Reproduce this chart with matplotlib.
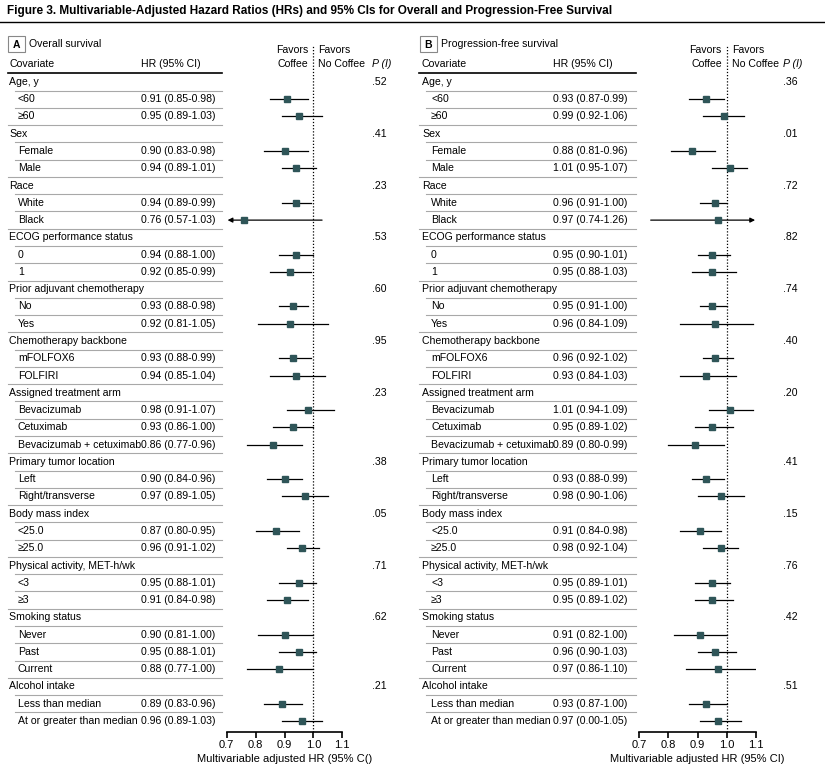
import numpy as np
import matplotlib
matplotlib.use('Agg')
import matplotlib.pyplot as plt
from matplotlib.patches import Rectangle
from matplotlib.transforms import blended_transform_factory

plt.rcParams['font.family'] = ['Liberation Sans', 'DejaVu Sans']

title = ('Figure 3. Multivariable-Adjusted Hazard Ratios (HRs) and 95% CIs '
         'for Overall and Progression-Free Survival')

groups = ['Age, y', 'Sex', 'Race', 'ECOG performance status', 'Prior adjuvant chemotherapy',
          'Chemotherapy backbone', 'Assigned treatment arm', 'Primary tumor location',
          'Body mass index', 'Physical activity, MET-h/wk', 'Smoking status', 'Alcohol intake']
subgroups = [['<60', '≥60'], ['Female', 'Male'], ['White', 'Black'], ['0', '1'], ['No', 'Yes'],
             ['mFOLFOX6', 'FOLFIRI'], ['Bevacizumab', 'Cetuximab', 'Bevacizumab + cetuximab'],
             ['Left', 'Right/transverse'], ['<25.0', '≥25.0'], ['<3', '≥3'],
             ['Never', 'Past', 'Current'], ['Less than median', 'At or greater than median']]

# A: overall survival
hr_os = [0.91, 0.95, 0.90, 0.94, 0.94, 0.76, 0.94, 0.92, 0.93, 0.92, 0.93, 0.94, 0.98,
         0.93, 0.86, 0.90, 0.97, 0.87, 0.96, 0.95, 0.91, 0.90, 0.95, 0.88, 0.89, 0.96]
lo_os = [0.85, 0.89, 0.83, 0.89, 0.89, 0.57, 0.88, 0.85, 0.88, 0.81, 0.88, 0.85, 0.91,
         0.86, 0.77, 0.84, 0.89, 0.80, 0.91, 0.88, 0.84, 0.81, 0.88, 0.77, 0.83, 0.89]
hi_os = [0.98, 1.03, 0.98, 1.01, 0.99, 1.03, 1.00, 0.99, 0.98, 1.05, 0.99, 1.04, 1.07,
         1.00, 0.96, 0.96, 1.05, 0.95, 1.02, 1.01, 0.98, 1.00, 1.01, 1.00, 0.96, 1.03]
p_os = ['.52', '.41', '.23', '.53', '.60', '.95', '.23', '.38', '.05', '.71', '.62', '.21']

# B: progression-free survival
hr_pfs = [0.93, 0.99, 0.88, 1.01, 0.96, 0.97, 0.95, 0.95, 0.95, 0.96, 0.96, 0.93, 1.01,
          0.95, 0.89, 0.93, 0.98, 0.91, 0.98, 0.95, 0.95, 0.91, 0.96, 0.97, 0.93, 0.97]
lo_pfs = [0.87, 0.92, 0.81, 0.95, 0.91, 0.74, 0.90, 0.88, 0.91, 0.84, 0.92, 0.84, 0.94,
          0.89, 0.80, 0.88, 0.90, 0.84, 0.92, 0.89, 0.89, 0.82, 0.90, 0.86, 0.87, 0.91]
hi_pfs = [0.99, 1.06, 0.96, 1.07, 1.00, 1.26, 1.01, 1.03, 1.00, 1.09, 1.02, 1.03, 1.09,
          1.02, 0.99, 0.99, 1.06, 0.98, 1.04, 1.01, 1.02, 1.00, 1.03, 1.10, 1.00, 1.05]
p_pfs = ['.36', '.01', '.72', '.82', '.74', '.40', '.20', '.41', '.15', '.76', '.42', '.51']
# the printed CI in the source has a typo on the last PFS row
ci_text_fix_pfs = {25: '0.97 (0.00-1.05)'}

xticks = [0.7, 0.8, 0.9, 1.0, 1.1]
MARK = '#2f5558'
GRID = '#a8a8a8'
FS = 7.6

W, H = 825, 773
fig = plt.figure(figsize=(W / 100, H / 100), dpi=100)
bg = fig.add_axes([0, 0, 1, 1])
bg.set_xlim(0, W)
bg.set_ylim(H, 0)
bg.axis('off')

# title, scaled so it spans the same width as in the source
t = bg.text(7, 11, title, fontsize=10, fontweight='bold', va='center', ha='left')
renderer = fig.canvas.get_renderer()
tw = t.get_window_extent(renderer).width
t.set_fontsize(10 * 601 / tw)
bg.plot([0, W], [22, 22], color='k', lw=1)

n_rows = len(groups) + sum(len(s) for s in subgroups)


def draw_panel(letter, name, hr, lo, hi, pvals, xlabel, x, ci_fix=None):
    # forest axes placed in pixel space, rows run top to bottom
    ax = fig.add_axes([x['ax0'] / W, 41 / H, (x['ax1'] - x['ax0']) / W, (732 - 45) / H])
    ax.set_xlim(0.7, 1.1)
    ax.set_ylim(37.64, -2.14)
    ax.patch.set_alpha(0)
    for s in ['top', 'left', 'right']:
        ax.spines[s].set_visible(False)
    ax.spines['bottom'].set_linewidth(1.2)
    ax.set_yticks([])
    ax.set_xticks(xticks)
    ax.set_xticklabels(['%.1f' % t for t in xticks], fontsize=FS + 0.4)
    ax.tick_params(axis='x', length=4, width=1.2, pad=2)
    ax.set_xlabel(xlabel, fontsize=FS + 0.4, labelpad=3)
    ax.axvline(1.0, color='k', lw=0.9, ls=(0, (1, 1.5)), zorder=1)

    tr = blended_transform_factory(bg.transData, ax.transData)

    # panel header
    bg.add_patch(Rectangle((x['box'], 36), 17, 16, fill=False, ec='#888888', lw=0.8))
    bg.text(x['box'] + 8.5, 44.5, letter, fontsize=7.5, fontweight='bold', ha='center', va='center')
    bg.text(x['box'] + 21, 44, name, fontsize=FS, va='center')
    bg.text(x['cov'], -1.04, 'Covariate', fontsize=FS, va='center', transform=tr)
    bg.text(x['hr'], -1.04, 'HR (95% CI)', fontsize=FS, va='center', transform=tr)
    bg.plot([x['sep0'], x['line1']], [-0.52, -0.52], color='k', lw=1.2, transform=tr)
    bg.text(x['fav'] - 5, -1.85, 'Favors', fontsize=FS, ha='right', va='center', transform=tr)
    bg.text(x['fav'] - 5, -1.04, 'Coffee', fontsize=FS, ha='right', va='center', transform=tr)
    bg.text(x['fav'] + 5, -1.85, 'Favors', fontsize=FS, ha='left', va='center', transform=tr)
    bg.text(x['fav'] + 5, -1.04, 'No Coffee', fontsize=FS, ha='left', va='center', transform=tr)
    bg.text(x['p'], -1.04, 'P (I)', fontsize=FS, style='italic', va='center', transform=tr)

    r = 0
    k = 0
    for g, subs, p in zip(groups, subgroups, pvals):
        bg.text(x['cov'], r, g, fontsize=FS, va='center', transform=tr)
        bg.text(x['p'], r, p, fontsize=FS, va='center', transform=tr)
        bg.plot([x['in0'], x['line1']], [r + 0.5, r + 0.5], color=GRID, lw=0.8, transform=tr)
        r += 1
        for j, s in enumerate(subs):
            txt = '%.2f (%.2f-%.2f)' % (hr[k], lo[k], hi[k])
            if ci_fix and k in ci_fix:
                txt = ci_fix[k]
            bg.text(x['sub'], r, s, fontsize=FS, va='center', transform=tr)
            bg.text(x['hr'], r, txt, fontsize=FS, va='center', transform=tr)
            if r < n_rows - 1:
                x0 = x['sep0'] if j == len(subs) - 1 else x['in0']
                bg.plot([x0, x['line1']], [r + 0.5, r + 0.5], color=GRID, lw=0.8,
                        transform=tr)
            a, b = max(lo[k], 0.703), min(hi[k], 1.097)
            if lo[k] < 0.7:
                ax.annotate('', xy=(a, r), xytext=(b, r),
                            arrowprops=dict(arrowstyle='-|>', color='k', lw=0.9,
                                            mutation_scale=7, shrinkA=0, shrinkB=0))
            elif hi[k] > 1.1:
                ax.annotate('', xy=(b, r), xytext=(a, r),
                            arrowprops=dict(arrowstyle='-|>', color='k', lw=0.9,
                                            mutation_scale=7, shrinkA=0, shrinkB=0))
            else:
                ax.plot([a, b], [r, r], color='k', lw=0.9, zorder=2)
            ax.plot(hr[k], r, marker='s', ms=4.5, color=MARK, zorder=3, clip_on=False)
            r += 1
            k += 1
    return ax


draw_panel('A', 'Overall survival', hr_os, lo_os, hi_os, p_os,
           'Multivariable adjusted HR (95% C()',
           dict(ax0=226.7, ax1=342.3, box=8, cov=9, sub=18, hr=141, sep0=8, in0=15, line1=222,
                fav=313.4, p=372))
draw_panel('B', 'Progression-free survival', hr_pfs, lo_pfs, hi_pfs, p_pfs,
           'Multivariable adjusted HR (95% CI)',
           dict(ax0=639, ax1=756, box=420, cov=422, sub=431, hr=553, sep0=419, in0=426, line1=636,
                fav=726.8, p=783), ci_fix=ci_text_fix_pfs)

fig.savefig('out.png', dpi=100)
